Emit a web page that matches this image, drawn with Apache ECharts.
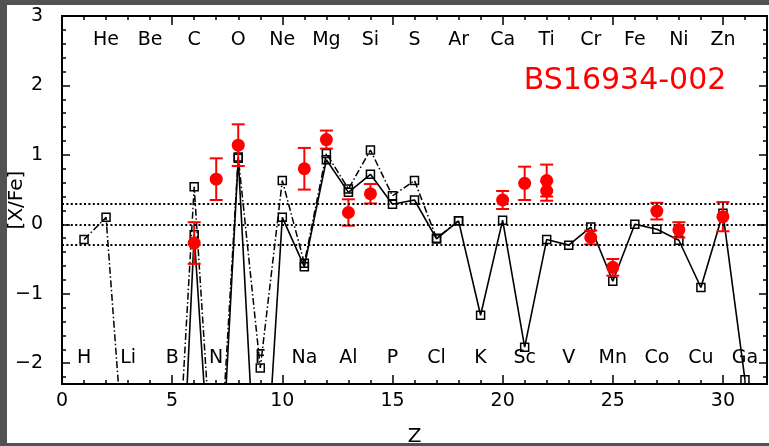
<!DOCTYPE html>
<html>
<head>
<meta charset="utf-8">
<script src="https://cdn.jsdelivr.net/npm/echarts@6/dist/echarts.min.js"></script>
<style>
  html, body { margin: 0; padding: 0; background: #525252; }
  #panel { position: absolute; left: 7px; top: 5px; width: 762px; height: 438px; background: #ffffff; }
  #chart { position: absolute; left: 0; top: 0; width: 769px; height: 446px; }
</style>
</head>
<body>
<div id="panel"></div>
<div id="chart"></div>
<script>
// Element symbols, index = Z - 1
const elements = ['H','He','Li','Be','B','C','N','O','F','Ne','Na','Mg','Al','Si','P','S','Cl','Ar',
                  'K','Ca','Sc','Ti','V','Cr','Mn','Fe','Co','Ni','Cu','Zn','Ga'];

// Model abundance pattern drawn with a solid line
const solidZ      = [5, 6, 7, 8, 9, 10, 11, 12, 13, 14, 15, 16, 17, 18, 19, 20, 21, 22, 23, 24, 25, 26, 27, 28, 29, 30, 31];
const solidValues = [-6.9, -0.15, -5.0, 0.95, -5.0, 0.10, -0.61, 0.93, 0.46, 0.72, 0.29, 0.35, -0.21, 0.05,
                     -1.31, 0.06, -1.77, -0.22, -0.30, -0.04, -0.82, 0.00, -0.07, -0.23, -0.91, 0.16, -2.24];

// Model abundance pattern drawn with a dash-dot line
const dashZ      = [1, 2, 3, 4, 5, 6, 7, 8, 9, 10, 11, 12, 13, 14, 15, 16, 17, 18];
const dashValues = [-0.22, 0.10, -4.2, -5.0, -5.05, 0.54, -4.4, 0.97, -2.07, 0.63, -0.56, 1.02, 0.51, 1.07,
                    0.41, 0.63, -0.20, 0.05];

// Observed abundances with 1-sigma errors
const obsZ      = [6, 7, 8, 11, 12, 13, 14, 20, 21, 22, 22, 24, 25, 27, 28, 30];
const obsValues = [-0.27, 0.65, 1.14, 0.80, 1.22, 0.17, 0.44, 0.35, 0.59, 0.63, 0.48, -0.19, -0.62, 0.19, -0.08, 0.11];
const obsErrors = [0.30, 0.30, 0.30, 0.30, 0.13, 0.19, 0.14, 0.13, 0.24, 0.23, 0.14, 0.10, 0.12, 0.12, 0.11, 0.21];

// Horizontal reference levels
const referenceLevels = [0.3, 0, -0.3];

// Tick labels
const xTickLabels = [0, 5, 10, 15, 20, 25, 30];
const yTickLabels = [-2, -1, 0, 1, 2, 3];

const starName = 'BS16934-002';

const X_MIN = 0, X_MAX = 32, Y_MIN = -2.3, Y_MAX = 3;
const FONT = '"DejaVu Sans", "Liberation Sans", sans-serif';
const BLACK = '#000000';
const RED = '#ff0000';

const xMinorTicks = [];
for (let i = X_MIN; i <= X_MAX; i++) xMinorTicks.push(i);
const yMinorTicks = [];
for (let i = -22; i <= 30; i += 2) yMinorTicks.push(Math.round(i) / 10);

const minusFmt = v => String(v).replace('-', '\u2212');

function xAxisDef(position, ticks, len, withLabels) {
  const ax = {
    type: 'value', position: position, min: X_MIN, max: X_MAX, offset: 0,
    axisLine: { show: true, onZero: false, lineStyle: { color: BLACK, width: 2 } },
    axisTick: { show: true, inside: true, length: len, customValues: ticks, lineStyle: { color: BLACK, width: 1.5 } },
    axisLabel: { show: false },
    splitLine: { show: false }
  };
  if (withLabels) {
    ax.axisLabel = { show: true, customValues: xTickLabels, margin: 8, color: BLACK,
                     fontFamily: FONT, fontSize: 19, formatter: minusFmt };
    ax.name = 'Z';
    ax.nameLocation = 'middle';
    ax.nameGap = 43;
    ax.nameMoveOverlap = false;
    ax.nameTextStyle = { color: BLACK, fontFamily: FONT, fontSize: 20 };
  }
  return ax;
}

function yAxisDef(position, ticks, len, withLabels) {
  const ax = {
    type: 'value', position: position, min: Y_MIN, max: Y_MAX, offset: 0,
    axisLine: { show: true, onZero: false, lineStyle: { color: BLACK, width: 2 } },
    axisTick: { show: true, inside: true, length: len, customValues: ticks, lineStyle: { color: BLACK, width: 1.5 } },
    axisLabel: { show: false },
    splitLine: { show: false }
  };
  if (withLabels) {
    ax.axisLabel = { show: true, customValues: yTickLabels, margin: 19, color: BLACK,
                     fontFamily: FONT, fontSize: 19, formatter: minusFmt };
    ax.name = '[X/Fe]';
    ax.nameLocation = 'middle';
    ax.nameRotate = 90;
    ax.nameGap = 35;
    ax.nameMoveOverlap = false;
    ax.nameTextStyle = { color: BLACK, fontFamily: FONT, fontSize: 20 };
  }
  return ax;
}

const elementLabelData = elements.map((s, i) => [i + 1, (i + 1) % 2 === 0 ? 2.66 : -1.93, s]);

const chart = echarts.init(document.getElementById('chart'), null, { renderer: 'canvas' });

chart.setOption({
  backgroundColor: 'transparent',
  animation: false,
  grid: { left: 62, right: 2, top: 16, bottom: 62, containLabel: false, outerBoundsMode: 'none' },
  xAxis: [
    xAxisDef('bottom', xTickLabels, 9, true),
    xAxisDef('bottom', xMinorTicks, 4, false),
    xAxisDef('top', xTickLabels, 9, false),
    xAxisDef('top', xMinorTicks, 4, false)
  ],
  yAxis: [
    yAxisDef('left', yTickLabels, 8, true),
    yAxisDef('left', yMinorTicks, 4, false),
    yAxisDef('right', yTickLabels, 8, false),
    yAxisDef('right', yMinorTicks, 4, false)
  ],
  graphic: [{
    type: 'text', x: 625, y: 81, z: 10,
    style: { text: starName, fill: RED, font: '30px ' + FONT,
             align: 'center', verticalAlign: 'middle', textAlign: 'center', textVerticalAlign: 'middle' }
  }],
  series: [
    {
      name: 'levels', type: 'line', data: [], silent: true, z: 1,
      markLine: {
        silent: true, symbol: 'none', label: { show: false },
        lineStyle: { color: BLACK, width: 2, type: [2, 2.4] },
        data: referenceLevels.map(v => ({ yAxis: v }))
      }
    },
    {
      name: 'dash-dot model', type: 'line', z: 3,
      data: dashZ.map((z, i) => [z, dashValues[i]]),
      showAllSymbol: true, symbol: 'rect', symbolSize: 8,
      lineStyle: { color: BLACK, width: 1.5, type: [7, 2.5, 1.5, 2.5] },
      itemStyle: { color: 'rgba(0,0,0,0)', borderColor: BLACK, borderWidth: 1.5 }
    },
    {
      name: 'solid model', type: 'line', z: 3,
      data: solidZ.map((z, i) => [z, solidValues[i]]),
      showAllSymbol: true, symbol: 'rect', symbolSize: 8,
      lineStyle: { color: BLACK, width: 1.6, type: 'solid' },
      itemStyle: { color: 'rgba(0,0,0,0)', borderColor: BLACK, borderWidth: 1.5 }
    },
    {
      name: 'errors', type: 'custom', z: 4,
      data: obsZ.map((z, i) => [z, obsValues[i], obsErrors[i]]),
      renderItem: function (params, api) {
        const x = api.value(0), y = api.value(1), e = api.value(2);
        const top = api.coord([x, y + e]);
        const bot = api.coord([x, y - e]);
        const w = 6.5;
        const st = { stroke: RED, lineWidth: 2 };
        return {
          type: 'group',
          children: [
            { type: 'line', shape: { x1: top[0], y1: top[1], x2: bot[0], y2: bot[1] }, style: st },
            { type: 'line', shape: { x1: top[0] - w, y1: top[1], x2: top[0] + w, y2: top[1] }, style: st },
            { type: 'line', shape: { x1: bot[0] - w, y1: bot[1], x2: bot[0] + w, y2: bot[1] }, style: st }
          ]
        };
      }
    },
    {
      name: 'observed', type: 'scatter', z: 5,
      data: obsZ.map((z, i) => [z, obsValues[i]]),
      symbol: 'circle', symbolSize: 13,
      itemStyle: { color: RED, opacity: 1 }
    },
    {
      name: 'element labels', type: 'custom', z: 6, silent: true,
      data: elementLabelData,
      renderItem: function (params, api) {
        const p = api.coord([api.value(0), api.value(1)]);
        return {
          type: 'text', x: p[0], y: p[1],
          style: { text: elementLabelData[params.dataIndex][2], fill: BLACK, font: '19px ' + FONT,
                   align: 'center', verticalAlign: 'middle' }
        };
      }
    }
  ]
});
</script>
</body>
</html>
